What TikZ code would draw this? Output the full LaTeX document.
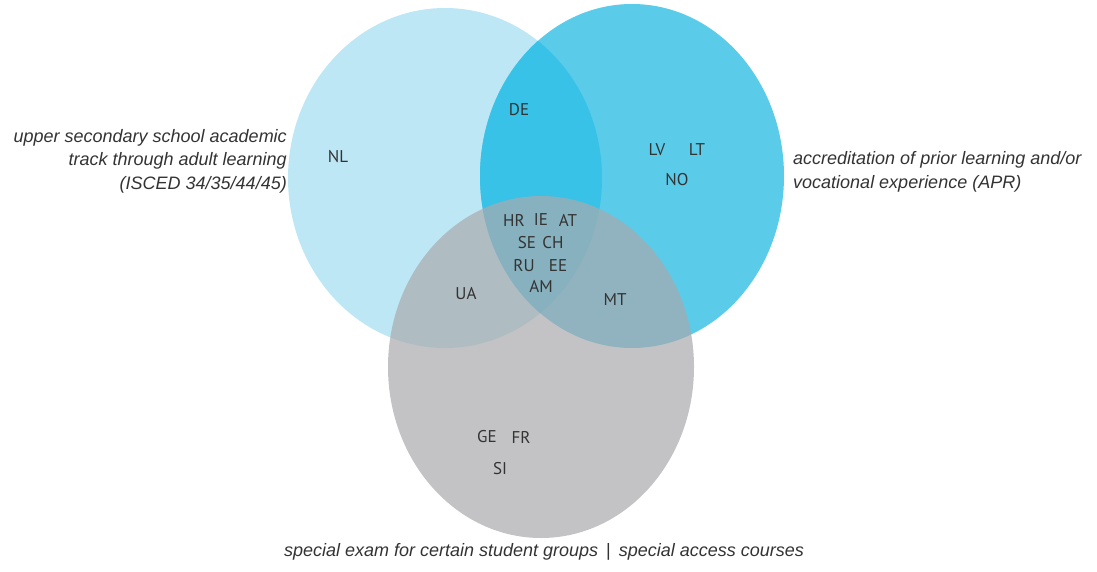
\documentclass[tikz,border=0pt]{standalone}
\usepackage{fontspec}
\setmainfont{PT Sans}
\newfontfamily\labfont{Liberation Sans}
\definecolor{upsecblue}{HTML}{BEE7F6}
\definecolor{aprblue}{HTML}{5BCBEA}
\definecolor{bothblue}{HTML}{38C2E8}
\definecolor{examgray}{HTML}{A9AAAD}
\definecolor{labtext}{HTML}{333333}

\begin{document}
\begin{tikzpicture}[x=1pt, y=-1pt,
	cc/.style={font=\fontsize{17}{17}\selectfont, text=labtext, inner sep=0pt},
	lab/.style={font=\labfont\itshape\fontsize{18}{23.5}\selectfont, text=labtext, inner sep=0pt}]
	\useasboundingbox (0,0) rectangle (1097,571);
	\fill[upsecblue] (445,178) ellipse [x radius=157, y radius=170];
	\fill[aprblue] (632,176) ellipse [x radius=152, y radius=172];
	\begin{scope}
		\clip (445,178) ellipse [x radius=157, y radius=170];
		\fill[bothblue] (632,176) ellipse [x radius=152, y radius=172];
	\end{scope}
	\fill[examgray, fill opacity=0.7] (541,367) ellipse [x radius=153, y radius=171];
	\foreach \name/\x/\y in {NL/338/157, DE/519/110, LV/657/150, LT/697/150, NO/677/180, HR/514/220, IE/541/220, AT/568/220, SE/527/243, CH/553/243, RU/524/266, EE/558/266, AM/541/286, UA/466/294, MT/615/300, GE/487/437, FR/521/437, SI/500/469} {\node[cc] (c\name) at (\x,\y) {\name};}
	\node[lab, anchor=east, align=right] (upsec) at (287,161) {upper secondary school academic\\track through adult learning\\(ISCED 34/35/44/45)};
	\node[lab, anchor=west, align=left] (apr) at (793,172) {accreditation of prior learning and/or\\vocational experience (APR)};
	\node[lab] (exam) at (544,552) {special exam for certain student groups \,\textup{|}\, special access courses};
\end{tikzpicture}
\end{document}
